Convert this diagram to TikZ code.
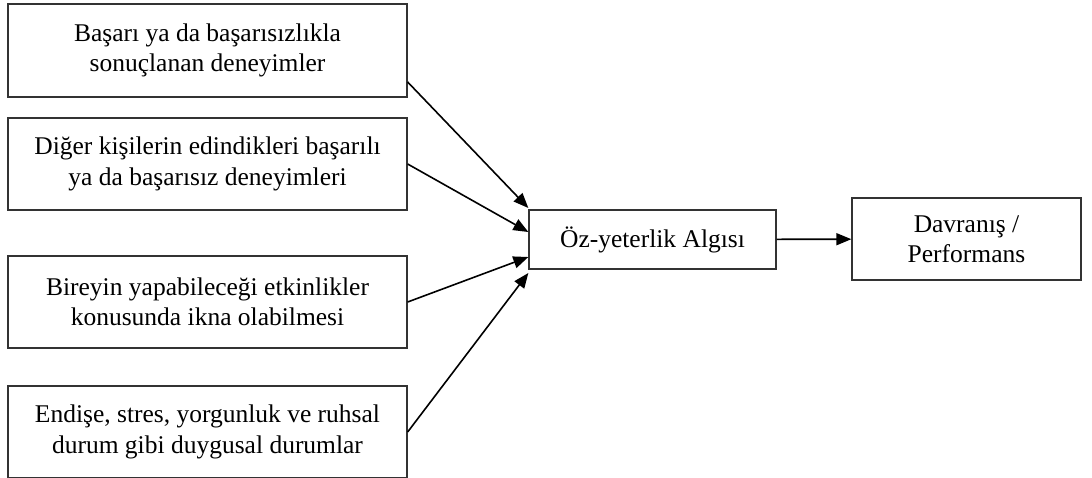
\documentclass[tikz,border=0pt]{standalone}
\usepackage{fontspec}
\setmainfont{Liberation Serif}
\usetikzlibrary{arrows.meta}
\tikzstyle{kutu}=[rectangle,draw=black!80,line width=1.3pt,align=center,
  font=\fontsize{25.5}{30.5}\selectfont,inner sep=0pt]
\tikzstyle{ok}=[line width=1.6pt,-{Triangle[length=15pt,width=12pt]}]

\begin{document}
\begin{tikzpicture}[x=1pt,y=-1pt]
    \clip (0,0) rectangle (1092,477);
    \node [style=kutu,minimum width=399pt,minimum height=93pt] (basari) at (207.5,50.5)
      {Başarı ya da başarısızlıkla\\sonuçlanan deneyimler};
    \node [style=kutu,minimum width=399pt,minimum height=92pt] (digerleri) at (207.5,164)
      {Diğer kişilerin edindikleri başarılı\\ya da başarısız deneyimleri};
    \node [style=kutu,minimum width=399pt,minimum height=92pt] (ikna) at (207.5,302)
      {Bireyin yapabileceği etkinlikler\\konusunda ikna olabilmesi};
    \node [style=kutu,minimum width=399pt,minimum height=92pt] (duygu) at (207.5,432)
      {Endişe, stres, yorgunluk ve ruhsal\\durum gibi duygusal durumlar};
    \node [style=kutu,minimum width=247pt,minimum height=59pt] (oz) at (652.5,239.5)
      {Öz-yeterlik Algısı};
    \node [style=kutu,minimum width=229pt,minimum height=82pt] (davranis) at (966.5,239)
      {Davranış /\\Performans};
    \draw [style=ok] ([yshift=-31.5pt]basari.east) to ([yshift=31.5pt]oz.west);
    \draw [style=ok] (digerleri.east) to ([yshift=7.5pt]oz.west);
    \draw [style=ok] (ikna.east) to ([yshift=-17.5pt]oz.west);
    \draw [style=ok] (duygu.east) to ([yshift=-33.5pt]oz.west);
    \draw [style=ok] (oz) to (davranis);
  \end{tikzpicture}
\end{document}
